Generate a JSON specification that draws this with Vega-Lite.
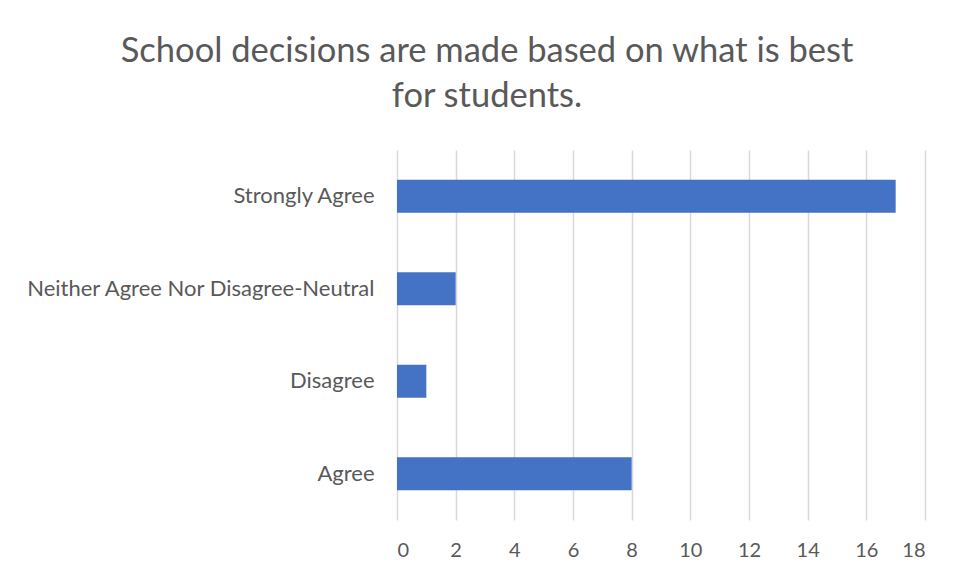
{
  "$schema": "https://vega.github.io/schema/vega-lite/v6.json",
  "autosize": "none",
  "width": 528,
  "height": 370,
  "padding": {"left": 397, "top": 150, "right": 32, "bottom": 57},
  "background": "white",
  "title": {
    "text": ["School decisions are made based on what is best", "for students."],
    "font": "Lato",
    "fontSize": 34.5,
    "fontWeight": "normal",
    "color": "#595959",
    "anchor": "middle",
    "frame": "group",
    "dx": -174,
    "offset": 36,
    "lineHeight": 45
  },
  "data": {
    "values": [
      {"response": "Strongly Agree", "count": 17},
      {"response": "Neither Agree Nor Disagree-Neutral", "count": 2},
      {"response": "Disagree", "count": 1},
      {"response": "Agree", "count": 8}
    ]
  },
  "mark": {"type": "bar", "color": "#4472C4"},
  "encoding": {
    "y": {
      "field": "response",
      "type": "nominal",
      "sort": null,
      "scale": {"paddingInner": 0.645, "paddingOuter": 0.3225},
      "axis": {
        "title": null,
        "domain": false,
        "ticks": false,
        "labelFont": "Lato",
        "labelFontSize": 22,
        "labelColor": "#595959",
        "labelPadding": 23,
        "labelLimit": 400
      }
    },
    "x": {
      "field": "count",
      "type": "quantitative",
      "scale": {"domain": [0, 18]},
      "axis": {
        "title": null,
        "values": [0, 2, 4, 6, 8, 10, 12, 14, 16, 18],
        "domain": false,
        "ticks": false,
        "grid": true,
        "gridColor": "#d9d9d9",
        "gridWidth": 1.5,
        "labelFont": "Lato",
        "labelFontSize": 20,
        "labelColor": "#595959",
        "labelPadding": 20
      }
    }
  },
  "config": {"view": {"stroke": null}}
}
